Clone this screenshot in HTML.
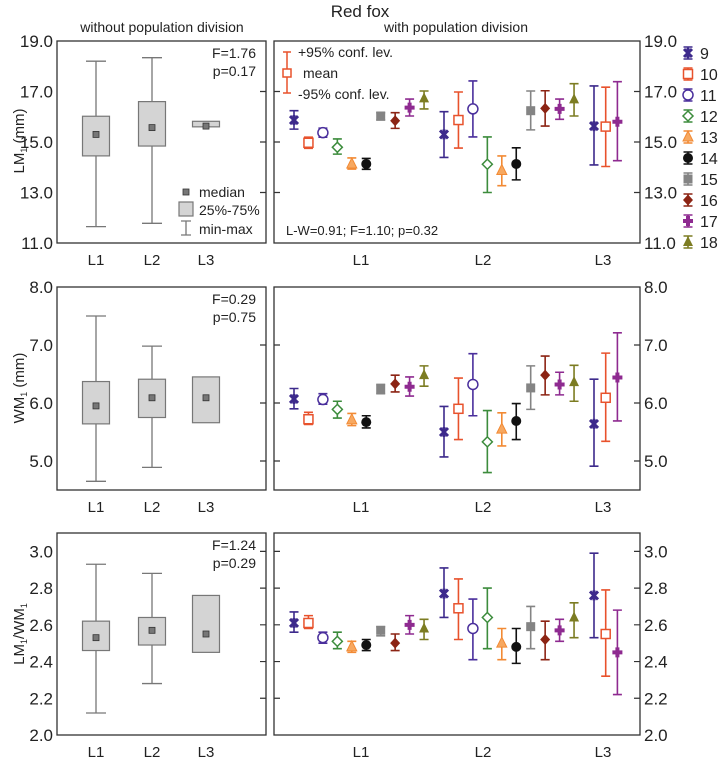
<!DOCTYPE html>
<html><head><meta charset="utf-8">
<style>
html,body{margin:0;padding:0;background:#fff;}
svg{display:block;font-family:"Liberation Sans",Arial,sans-serif;}
</style></head>
<body>
<svg id="chart" width="720" height="764" viewBox="0 0 720 764" xmlns="http://www.w3.org/2000/svg">
  <text x="360" y="17" font-size="17" text-anchor="middle" fill="#222">Red fox</text>
  <text x="162" y="32" font-size="14" text-anchor="middle" fill="#222">without population division</text>
  <text x="456" y="32" font-size="14" text-anchor="middle" fill="#222">with population division</text>
  <g id="plots"></g>
</svg>
<script>
// ---------- DATA ----------
const groups = ["L1","L2","L3"];
const seriesNames = ["9","10","11","12","13","14","15","16","17","18"];
// series present per group (indices into seriesNames)
const groupSeries = [[0,1,2,3,4,5,6,7,8,9],[0,1,2,3,4,5,6,7,8,9],[0,1,8]];

// LM1 means / upper / lower per group
const lmMean = [[15.87,14.97,15.37,14.79,14.13,14.13,16.03,15.84,16.36,16.73],[15.30,15.87,16.31,14.12,13.87,14.13,16.24,16.33,16.31,16.69],[15.63,15.61,15.80]];
const lmHi   = [[16.24,15.19,15.55,15.12,14.37,14.35,16.16,16.16,16.70,17.02],[16.20,16.98,17.42,15.20,14.45,14.77,17.02,17.03,16.70,17.31],[17.22,17.17,17.39]];
const lmLo   = [[15.51,14.75,15.19,14.52,13.93,13.92,15.87,15.54,16.03,16.31],[14.39,14.76,15.20,13.00,13.27,13.50,15.48,15.63,15.90,16.03],[14.09,14.03,14.26]];

const wmMean = [[6.07,5.72,6.06,5.89,5.71,5.67,6.24,6.33,6.28,6.48],[5.50,5.90,6.32,5.33,5.55,5.69,6.26,6.48,6.32,6.36],[5.64,6.09,6.44]];
const wmHi   = [[6.25,5.84,6.16,6.03,5.82,5.78,6.32,6.48,6.45,6.64],[5.94,6.43,6.85,5.87,5.83,5.99,6.64,6.81,6.53,6.65],[6.41,6.86,7.21]];
const wmLo   = [[5.90,5.63,5.98,5.74,5.61,5.57,6.16,6.19,6.12,6.29],[5.07,5.37,5.78,4.80,5.26,5.37,5.89,6.14,6.14,6.03],[4.91,5.34,5.69]];

const rMean = [[2.61,2.61,2.53,2.51,2.48,2.49,2.57,2.50,2.60,2.58],[2.77,2.69,2.58,2.64,2.50,2.48,2.59,2.52,2.57,2.64],[2.76,2.55,2.45]];
const rHi   = [[2.67,2.65,2.56,2.56,2.51,2.52,2.59,2.55,2.65,2.63],[2.91,2.85,2.74,2.80,2.58,2.58,2.70,2.62,2.63,2.72],[2.99,2.79,2.68]];
const rLo   = [[2.56,2.58,2.50,2.47,2.45,2.46,2.54,2.46,2.55,2.52],[2.64,2.52,2.41,2.47,2.41,2.39,2.47,2.41,2.51,2.53],[2.53,2.32,2.22]];

// box plots: min, q1, median, q3, max
const lmBox = [[11.65,14.45,15.30,16.02,18.20],[11.78,14.84,15.57,16.60,18.34],[15.60,15.60,15.63,15.82,15.82]];
const wmBox = [[4.65,5.64,5.95,6.37,7.50],[4.89,5.75,6.09,6.41,6.98],[5.66,5.66,6.09,6.45,6.45]];
const rBox  = [[2.12,2.46,2.53,2.62,2.93],[2.28,2.49,2.57,2.64,2.88],[2.45,2.45,2.55,2.76,2.76]];

const lmTicks = ["11.0","13.0","15.0","17.0","19.0"];
const wmTicks = ["5.0","6.0","7.0","8.0"];
const rTicks  = ["2.0","2.2","2.4","2.6","2.8","3.0"];

const stats = [["F=1.76","p=0.17"],["F=0.29","p=0.75"],["F=1.24","p=0.29"]];

// ---------- STYLE ----------
const colors = ["#3d2a8c","#e8522c","#4a2f9c","#3c8c3c","#f28a34","#111111","#848484","#8c2414","#8e2a90","#7c7c22"];
const NS = "http://www.w3.org/2000/svg";
const root = document.getElementById("plots");
function mk(tag, attrs, parent){ const e=document.createElementNS(NS,tag); for(const k in attrs) e.setAttribute(k,attrs[k]); (parent||root).appendChild(e); return e; }

const rows = [
  {top:41,bottom:243,min:11,max:19,mean:lmMean,hi:lmHi,lo:lmLo,box:lmBox,ticks:lmTicks,ylabel:"LM",ysub:"1",yunit:" (mm)",cy:141,name:"lm1"},
  {top:287,bottom:490,min:4.5,max:8.0,mean:wmMean,hi:wmHi,lo:wmLo,box:wmBox,ticks:wmTicks,ylabel:"WM",ysub:"1",yunit:" (mm)",cy:388,name:"wm1"},
  {top:533,bottom:735,min:2.0,max:3.1,mean:rMean,hi:rHi,lo:rLo,box:rBox,ticks:rTicks,ylabel:"ratio",cy:634,name:"ratio"}
];
const LX0=57, LX1=266, RX0=274, RX1=640;
const boxCenters = [96,152,206];
function xPoint(g,k,n){ const start=294+g*150; const step = n<=3?11.7:14.45; return start+k*step; }
function groupLabelX(g){ return [361,483,603][g]; }

function marker(si, x, y, parent){
  const c=colors[si];
  const g=mk("g",{},parent);
  
  
  switch(si){
    case 0: mk("path",{d:`M${x-4},${y-4}L${x+4},${y+4}M${x+4},${y-4}L${x-4},${y+4}M${x},${y-5}L${x},${y+5}`,stroke:c,"stroke-width":3},g); break;
    case 1: mk("rect",{x:x-4.5,y:y-4.5,width:9,height:9,fill:"#fff",stroke:c,"stroke-width":1.5},g); break;
    case 2: mk("circle",{cx:x,cy:y,r:5,fill:"#fff",stroke:c,"stroke-width":1.5},g); break;
    case 3: mk("path",{d:`M${x},${y-5}L${x+5},${y}L${x},${y+5}L${x-5},${y}Z`,fill:"#fff",stroke:c,"stroke-width":1.5},g); break;
    case 4: mk("path",{d:`M${x},${y-6}L${x+5},${y+4}L${x-5},${y+4}Z`,fill:"#f7a860",stroke:c,"stroke-width":1},g); break;
    case 5: mk("circle",{cx:x,cy:y,r:5,fill:c},g); break;
    case 6: mk("rect",{x:x-4.5,y:y-4.5,width:9,height:9,fill:c},g); break;
    case 7: mk("path",{d:`M${x},${y-5.5}L${x+5},${y}L${x},${y+5.5}L${x-5},${y}Z`,fill:c},g); break;
    case 8: mk("path",{d:`M${x-5},${y}L${x+5},${y}M${x},${y-5}L${x},${y+5}`,stroke:c,"stroke-width":4},g); break;
    case 9: mk("path",{d:`M${x},${y-6}L${x+5},${y+4}L${x-5},${y+4}Z`,fill:c},g); break;
  }
}
function errbar(si,x,yh,yl,parent){
  const c=colors[si];
  const p=mk("path",{d:`M${x},${yh}L${x},${yl}M${x-4.5},${yh}L${x+4.5},${yh}M${x-4.5},${yl}L${x+4.5},${yl}`,stroke:c,"stroke-width":1.6,fill:"none"},parent);
  
  
}

rows.forEach((r,ri)=>{
  const ys = v => r.bottom - (v-r.min)/(r.max-r.min)*(r.bottom-r.top);
  // left panel
  const lp=mk("g",{});  
  const lf=mk("rect",{x:LX0,y:r.top,width:LX1-LX0,height:r.bottom-r.top,fill:"none",stroke:"#333","stroke-width":1.3},lp);
   
  // right panel
  const rp=mk("g",{});  
  const rf=mk("rect",{x:RX0,y:r.top,width:RX1-RX0,height:r.bottom-r.top,fill:"none",stroke:"#333","stroke-width":1.3},rp);
   
  // ticks & labels
  r.ticks.forEach(t=>{
    const v=parseFloat(t), y=ys(v);
    const tl=mk("text",{x:53,y:y+6,"font-size":17,"text-anchor":"end",fill:"#222"},lp); tl.textContent=t;
     
    const tr=mk("text",{x:644,y:y+6,"font-size":17,"text-anchor":"start",fill:"#222"},rp); tr.textContent=t;
     
    if(y>r.top+2 && y<r.bottom-2){
      const tk=mk("path",{d:`M${LX1-6},${y}L${LX1},${y}M${RX0},${y}L${RX0+6},${y}M${RX1-6},${y}L${RX1},${y}`,stroke:"#333","stroke-width":1.2},rp);
       
    }
  });
  // group labels
  groups.forEach((gname,g)=>{
    const a=mk("text",{x:boxCenters[g],y:r.bottom+22,"font-size":15,"text-anchor":"middle",fill:"#222"},lp); a.textContent=gname;
     
    const b=mk("text",{x:groupLabelX(g),y:r.bottom+22,"font-size":15,"text-anchor":"middle",fill:"#222"},rp); b.textContent=gname;
     
  });
  // y axis title
  const yt=mk("text",{x:0,y:0,"font-size":15,"text-anchor":"middle",fill:"#222",transform:`translate(24,${r.cy}) rotate(-90)`},lp);
   
  if(r.ylabel==="ratio"){
    yt.innerHTML='LM<tspan font-size="9" dy="3">1</tspan><tspan dy="-3">/WM</tspan><tspan font-size="9" dy="3">1</tspan>';
  } else {
    yt.innerHTML=r.ylabel+'<tspan font-size="9" dy="3">1</tspan><tspan dy="-3">'+r.yunit+'</tspan>';
  }
  // stats text
  const s1=mk("text",{x:256,y:r.top+17,"font-size":14,"text-anchor":"end",fill:"#222"},lp); s1.textContent=stats[ri][0];
   
  const s2=mk("text",{x:256,y:r.top+35,"font-size":14,"text-anchor":"end",fill:"#222"},lp); s2.textContent=stats[ri][1];
   
  // boxplots
  r.box.forEach((b,g)=>{
    const cx=boxCenters[g];
    const bg=mk("g",{},lp);  
    if(b[4]>b[3]) mk("path",{d:`M${cx},${ys(b[3])}L${cx},${ys(b[4])}M${cx-10},${ys(b[4])}L${cx+10},${ys(b[4])}`,stroke:"#777","stroke-width":1.3,fill:"none"},bg);
    if(b[0]<b[1]) mk("path",{d:`M${cx},${ys(b[1])}L${cx},${ys(b[0])}M${cx-10},${ys(b[0])}L${cx+10},${ys(b[0])}`,stroke:"#777","stroke-width":1.3,fill:"none"},bg);
    mk("rect",{x:cx-13.5,y:ys(b[3]),width:27,height:ys(b[1])-ys(b[3]),fill:"#d4d4d4",stroke:"#777","stroke-width":1.2},bg);
    mk("rect",{x:cx-3,y:ys(b[2])-3,width:6,height:6,fill:"#777",stroke:"#333","stroke-width":0.8},bg);
  });
  // error bars
  groupSeries.forEach((list,g)=>{
    list.forEach((si,k)=>{
      const x=xPoint(g,k,list.length);
      errbar(si,x,ys(r.hi[g][k]),ys(r.lo[g][k]),rp);
      marker(si,x,ys(r.mean[g][k]),rp);
    });
  });
});

// left legend (row 1)
(function(){
  const lg=mk("g",{});  
  mk("rect",{x:183,y:189,width:6,height:6,fill:"#777",stroke:"#333","stroke-width":0.8},lg);
  mk("rect",{x:179,y:202,width:14,height:14,fill:"#d4d4d4",stroke:"#777","stroke-width":1.2},lg);
  mk("path",{d:"M186,221L186,235M181,221L191,221M181,235L191,235",stroke:"#777","stroke-width":1.3},lg);
  [["median",197],["25%-75%",215],["min-max",234]].forEach(t=>{
    const e=mk("text",{x:199,y:t[1],"font-size":14,fill:"#222"},lg); e.textContent=t[0];
     
  });
  const cl=mk("g",{});  
  mk("path",{d:"M287,52L287,93M283,52L291,52M283,93L291,93",stroke:"#e8522c","stroke-width":1.5},cl);
  mk("rect",{x:283,y:69,width:8,height:8,fill:"#fff",stroke:"#e8522c","stroke-width":1.5},cl);
  [["+95% conf. lev.",298,57],["mean",303,78],["-95% conf. lev.",298,99]].forEach(t=>{
    const e=mk("text",{x:t[1],y:t[2],"font-size":14,fill:"#222"},cl); e.textContent=t[0];
     
  });
  const lw=mk("text",{x:286,y:235,"font-size":13,fill:"#222"}); lw.textContent="L-W=0.91; F=1.10; p=0.32";
   
  // series legend
  seriesNames.forEach((n,si)=>{
    const y=53+si*21;
    const g=mk("g",{});  
    errbar(si,688,y-6,y+6,g);
    marker(si,688,y,g);
    const t=mk("text",{x:700,y:y+6,"font-size":16,fill:"#222"},g); t.textContent=n;
     
  });
})();
</script>
</body></html>
